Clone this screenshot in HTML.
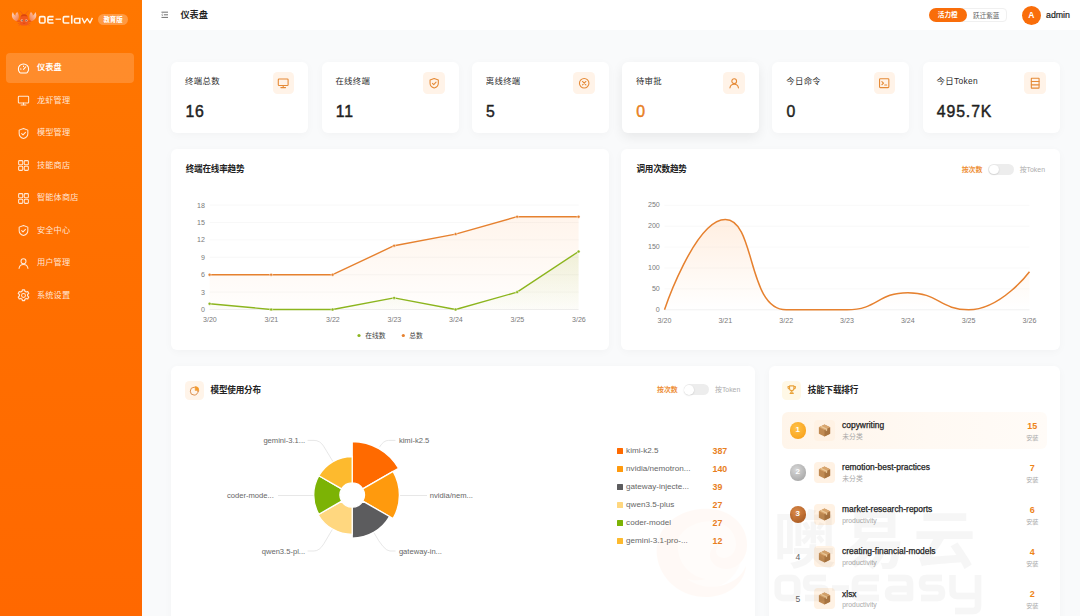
<!DOCTYPE html>
<html lang="zh">
<head>
<meta charset="utf-8">
<title>OE-Claw</title>
<style>
*{box-sizing:border-box;margin:0;padding:0}
html,body{width:1080px;height:616px;overflow:hidden}
body{white-space:nowrap;font-family:"Liberation Sans","Noto Sans CJK SC",sans-serif;background:#f9fafb;color:#1f1f1f;position:relative;-webkit-font-smoothing:antialiased}
.abs{position:absolute}
/* sidebar */
#side{position:absolute;left:0;top:0;width:142px;height:616px;background:linear-gradient(180deg,#ff7700 0%,#ff7000 40%,#ff6800 100%)}
.logo-t{position:absolute;left:38px;top:11px;font-size:11.5px;font-weight:700;color:#fff;letter-spacing:.2px;line-height:16px}
.badge{position:absolute;left:98px;top:14px;width:30px;height:11px;border-radius:6px;background:rgba(255,255,255,.26);color:#fff;font-size:6.400px;font-weight:700;line-height:11px;text-align:center}
.nav{position:absolute;left:6px;width:128px;height:30px;border-radius:4px}
.nav.on{background:rgba(255,255,255,.17)}
.nav span{position:absolute;left:31px;top:0;line-height:30px;font-size:8.200px;letter-spacing:.120px;color:rgba(255,255,255,.84)}
.nav.on span{color:#fff;font-weight:700}
.nav svg{position:absolute;left:11.400px;top:8.500px;width:13px;height:13px;fill:none;stroke:rgba(255,255,255,.84);stroke-width:1.900;stroke-linecap:round;stroke-linejoin:round}
.nav.on svg{stroke:#fff}
/* header */
#hdr{position:absolute;left:142px;top:0;width:938px;height:30px;background:#fff}
.h-title{position:absolute;left:38.400px;top:0;line-height:30px;font-size:9.200px;font-weight:700;color:#1f1f1f}

.hb{position:absolute;left:18.600px;top:10.900px;width:7.600px;height:7.600px}
.pill{position:absolute;top:7.500px;height:14.500px;line-height:14.500px;font-size:6.600px;text-align:center}
.pill.a{left:787px;width:37.500px;border-radius:7.300px;background:#f96d0a;color:#fff;z-index:2;font-weight:700}
.pill.b{left:816px;width:48.500px;padding-left:8px;border-radius:0 4px 4px 0;background:#fff;border:.700px solid #f0f0f0;color:#666;line-height:13px}
.ava{position:absolute;left:879.800px;top:5.600px;width:19px;height:19px;border-radius:50%;background:#f96d0a;color:#fff;font-size:8.500px;line-height:19px;text-align:center;font-weight:700}
.adm{position:absolute;left:904px;top:0;line-height:30px;font-size:8.800px;color:#222;-webkit-text-stroke:.200px #222}
/* cards */
.card{position:absolute;background:#fff;border-radius:6px;box-shadow:0 2px 9px rgba(0,0,0,.03)}
.stat{top:61.500px;width:137px;height:71.300px}
.stat .lb{position:absolute;left:13.900px;top:14.200px;font-size:8.400px;letter-spacing:.350px;line-height:11px;color:#2a2a2a}
.stat .nm{position:absolute;left:14.200px;top:40.600px;font-size:15.800px;line-height:20px;font-weight:400;color:#1f1f1f;letter-spacing:.900px;-webkit-text-stroke:.450px #1f1f1f}
.stat .ic{position:absolute;left:101.400px;top:10.600px;width:21.800px;height:21.800px;border-radius:4.500px;background:#fff3e8}
.stat .ic svg{position:absolute;left:4.700px;top:4.900px;width:12.400px;height:12.400px;fill:none;stroke:#e58a36;stroke-width:2.100;stroke-linecap:round;stroke-linejoin:round}
.stat.hl .nm{color:#e8801f;-webkit-text-stroke-color:#e8801f}
.stat.hl{box-shadow:0 4px 12px rgba(0,0,0,.075)}
.ct{position:absolute;font-size:8.600px;letter-spacing:-.220px;font-weight:700;color:#222;line-height:12px}
.tg{position:absolute;height:12px;white-space:nowrap;font-size:6.900px;line-height:11px}
.tg b{position:absolute;left:0;top:0;color:#ee9038;font-weight:700}
.tg i{position:absolute;left:26.500px;top:0;width:25.500px;height:11px;border-radius:5.500px;background:#ededed}
.tg i:after{content:"";position:absolute;left:.800px;top:.700px;width:9.600px;height:9.600px;border-radius:50%;background:#fff;box-shadow:0 .500px 1.500px rgba(0,0,0,.18)}
.tg span{position:absolute;left:58px;top:0;color:#adadad}
.tic{position:absolute;width:19.200px;height:19.200px;border-radius:4.500px;background:#fff4e9}
.tic svg{position:absolute;left:3.900px;top:3.900px;width:11.400px;height:11.400px;fill:none;stroke:#ef8a3a;stroke-width:2;stroke-linecap:round;stroke-linejoin:round}
.tic.y{background:#fff8e6}
.tic.y svg{stroke:#e9a23b;stroke-width:2.300}
.pl{font-size:7.600px;fill:#666;font-family:"Liberation Sans",sans-serif}
.lg{position:absolute;left:445.500px;width:120px;height:12px;line-height:12px;font-size:8.100px;color:#666;white-space:nowrap}
.lg i{position:absolute;left:0;top:3px;width:6px;height:6px;border-radius:.500px}
.lg span{position:absolute;left:9.600px;top:0}
.lg b{position:absolute;left:96px;top:0;font-size:8.800px;color:#e8801f;font-weight:700}
.rk{position:absolute;left:12.500px;width:265.500px;height:37.400px;border-radius:6px}
.rk.r1{background:linear-gradient(90deg,#fff5ea 0%,#fff9f3 55%,#fffbf7 100%)}
.rk em{position:absolute;left:8px;top:10.400px;width:16.600px;height:16.600px;border-radius:50%;font-style:normal;font-size:8.600px;line-height:18.400px;text-align:center;color:#666;font-weight:400}
.rk.r1 em{background:radial-gradient(circle at 40% 35%,#ffc24a,#f79a10);color:#fff;font-weight:700;font-size:8px;line-height:16.600px}
.rk.r2 em{background:radial-gradient(circle at 40% 35%,#d8d8d8,#9c9c9c);color:#fff;font-weight:700;font-size:8px;line-height:16.600px}
.rk.r3 em{background:radial-gradient(circle at 40% 35%,#d98a4a,#a8551c);color:#fff;font-weight:700;font-size:8px;line-height:16.600px}
.rk u{position:absolute;left:32.500px;top:8.300px;width:20.800px;height:20.800px;border-radius:4px;background:#fff2e4;text-decoration:none}
.rk u svg{position:absolute;left:2.900px;top:2.900px;width:15px;height:15px}
.rk span{position:absolute;left:60.600px;top:8.500px;font-size:8.420px;line-height:11px;color:#222;white-space:nowrap;-webkit-text-stroke:.250px #222}
.rk small{position:absolute;left:60.800px;top:20.400px;font-size:6.800px;line-height:9px;color:#a8a8a8}
.rk b{position:absolute;right:2.700px;width:24px;text-align:center;top:9.400px;font-size:9px;line-height:11px;color:#ee8419;font-weight:700}
.rk s{position:absolute;right:2.700px;width:24px;text-align:center;top:21px;font-size:6.200px;line-height:9px;color:#aaa;text-decoration:none}
.ax{font-size:7.100px;fill:#7a7a7a;font-family:"Liberation Sans","Noto Sans CJK SC",sans-serif}
</style>
</head>
<body>

<div id="side">
  <svg class="abs" style="left:0;top:0" width="142" height="36" viewBox="0 0 142 36" role="img" aria-label="OE-Claw">
    <defs><linearGradient id="cl" x1="0" y1="0" x2="1" y2="1"><stop offset="0" stop-color="#ffdcc8"/><stop offset="1" stop-color="#f3743e"/></linearGradient>
    <linearGradient id="cr" x1="1" y1="0" x2="0" y2="1"><stop offset="0" stop-color="#ffdcc8"/><stop offset="1" stop-color="#f3743e"/></linearGradient></defs>
    <g fill="none" stroke-linecap="round" stroke-linejoin="round">
      <path d="M22.800 14.600Q21.600 11.600 19.800 10.900M25.400 14.600Q26.600 11.600 28.400 10.900" stroke="#ee5a1c" stroke-width=".700"/>
      <path d="M20.600 20.600Q18.400 22 16.600 20.400M27.600 20.600Q29.800 22 31.600 20.400" stroke="#ec5418" stroke-width="1.700"/>
      <path d="M20.400 22.700l-2.200 .900M20.800 24l-1.800 1.200M27.800 22.700l2.200 .900M27.400 24l1.800 1.200" stroke="#ec5418" stroke-width=".700"/>
    </g>
    <path d="M16.900 21.200C12.300 20.200 10.600 15.600 12.900 12C13.500 13.800 14.300 15 15.500 15.700C15.300 14 15.900 12.600 17.300 11.900C19.400 14.700 19.600 18.800 16.900 21.200Z" fill="url(#cl)"/>
    <path d="M31.300 21.200C35.900 20.200 37.600 15.600 35.300 12C34.700 13.800 33.900 15 32.700 15.700C32.900 14 32.300 12.600 30.900 11.900C28.800 14.700 28.600 18.800 31.300 21.200Z" fill="url(#cr)"/>
    <path d="M24.100 14.200C26.500 14.200 28 16.200 28.200 19C28.400 21.400 28.300 23.800 27.700 24.800Q27.300 25.400 26.400 25.400H21.800Q20.900 25.400 20.500 24.800C19.900 23.800 19.800 21.400 20 19C20.200 16.200 21.700 14.200 24.100 14.200Z" fill="#f1591d"/>
    <path d="M24.100 14.200C25.700 14.200 26.900 15.100 27.500 16.500Q24.100 15.400 20.700 16.500C21.300 15.100 22.500 14.200 24.100 14.200Z" fill="#d9460d"/>
    <ellipse cx="21.900" cy="20.600" rx="1.250" ry="1" fill="#ffe9d4"/><ellipse cx="26.300" cy="20.600" rx="1.250" ry="1" fill="#ffe9d4"/>
    <circle cx="22.100" cy="20.600" r=".620" fill="#4a1603"/><circle cx="26.100" cy="20.600" r=".620" fill="#4a1603"/>
    <path d="M23.200 23.200Q24.100 23.800 25 23.200" fill="none" stroke="#c93a08" stroke-width=".500" stroke-linecap="round"/>
    <!-- wordmark OE-Claw -->
    <g fill="none" stroke="#fff6e8" stroke-width="1.600" stroke-linejoin="round">
      <rect x="39.500" y="16.600" width="5.500" height="6.400" rx="1.300"/>
      <path d="M53.600 16.600H49.200Q47.900 16.600 47.900 17.900V21.700Q47.900 23 49.200 23H53.600M47.900 19.700H53.200"/>
      <path d="M55.500 19.200H61" stroke-width="1.200"/>
      <path d="M69.400 16.600H64.600Q63.300 16.600 63.300 17.900V21.700Q63.300 23 64.600 23H69.400"/>
      <path d="M71.750 15.300V23.700"/>
      <path d="M79.800 17.800V23.700M79.800 23H75.800Q74.500 23 74.500 21.700V19.800Q74.500 18.500 75.800 18.500H79.800"/>
      <path d="M82 17.900L84.400 23L87.200 18.600L90 23L92.400 17.900" stroke-width="1.350"/>
    </g>
  </svg>
  <div class="badge">教育版</div>
  <div class="nav on" style="top:53.3px"><svg viewBox="0 0 24 24"><path d="M12 3.5a9.5 9.5 0 0 0-9.5 9.5c0 2.6 1 4.9 2.7 6.6.4.4.9.6 1.4.6h10.8c.5 0 1-.2 1.4-.6A9.4 9.4 0 0 0 21.500 13 9.500 9.500 0 0 0 12 3.500z"/><path d="M12 13.500l4.200-4.700"/><path d="M6.300 13h1.200M12 7.200v1.200"/></svg><span>仪表盘</span></div>
  <div class="nav" style="top:85.8px"><svg viewBox="0 0 24 24"><rect x="2.5" y="4" width="19" height="12.500" rx="1.500"/><path d="M12 16.500v4M7.500 20.500h9"/></svg><span>龙虾管理</span></div>
  <div class="nav" style="top:118.3px"><svg viewBox="0 0 24 24"><path d="M12 2.800l8 3v6.200c0 4.600-3.300 7.900-8 9.400-4.700-1.500-8-4.800-8-9.400V5.800z"/><path d="M8.600 12.200l2.500 2.500 4.500-4.700"/></svg><span>模型管理</span></div>
  <div class="nav" style="top:150.8px"><svg viewBox="0 0 24 24"><rect x="3" y="3" width="7.600" height="7.600" rx="1.600"/><rect x="13.400" y="3" width="7.600" height="7.600" rx="1.600"/><rect x="3" y="13.400" width="7.600" height="7.600" rx="1.600"/><rect x="13.400" y="13.400" width="7.600" height="7.600" rx="1.600"/></svg><span>技能商店</span></div>
  <div class="nav" style="top:183.3px"><svg viewBox="0 0 24 24"><rect x="3" y="3" width="7.600" height="7.600" rx="1.600"/><rect x="13.400" y="3" width="7.600" height="7.600" rx="1.600"/><rect x="3" y="13.400" width="7.600" height="7.600" rx="1.600"/><rect x="13.400" y="13.400" width="7.600" height="7.600" rx="1.600"/></svg><span>智能体商店</span></div>
  <div class="nav" style="top:215.8px"><svg viewBox="0 0 24 24"><path d="M12 2.800l8 3v6.200c0 4.600-3.300 7.900-8 9.400-4.700-1.500-8-4.800-8-9.400V5.800z"/><path d="M8.600 12.200l2.500 2.500 4.500-4.700"/></svg><span>安全中心</span></div>
  <div class="nav" style="top:248.3px"><svg viewBox="0 0 24 24"><circle cx="12" cy="8" r="4.600"/><path d="M3.800 21c.6-4.300 4-7 8.200-7s7.600 2.700 8.200 7"/></svg><span>用户管理</span></div>
  <div class="nav" style="top:280.8px"><svg viewBox="0 0 24 24"><path transform="translate(12 12) scale(1.160) translate(-12 -12)" d="M10.300 2.900h3.400l.6 2.500 1.900 1.100 2.500-.8 1.700 3-1.900 1.800v2.200l1.900 1.800-1.700 3-2.500-.8-1.900 1.100-.6 2.500h-3.400l-.6-2.500-1.900-1.100-2.500.8-1.700-3 1.900-1.800v-2.200L3.600 8.700l1.700-3 2.500.8 1.900-1.100z"/><circle cx="12" cy="12" r="3.600"/></svg><span>系统设置</span></div>
</div>

<div id="hdr">
  <svg class="hb" viewBox="0 0 16 16" fill="none" stroke="#444" stroke-width="1.600"><path d="M1 2.500h14M6 8h9M1 13.500h14"/><path d="M3.800 6L1.500 8l2.300 2" stroke-width="1.200"/></svg>
  <div class="h-title">仪表盘</div>
  <div class="pill a">活力橙</div>
  <div class="pill b">跃迁紫蓝</div>
  <div class="ava">A</div>
  <div class="adm">admin</div>
</div>

<div class="card stat" style="left:171.2px"><div class="lb">终端总数</div><div class="nm">16</div><div class="ic"><svg viewBox="0 0 24 24"><rect x="2.500" y="4" width="19" height="12.500" rx="1.500"/><path d="M12 16.500v4M7.500 20.500h9"/></svg></div></div>
<div class="card stat" style="left:321.5px"><div class="lb">在线终端</div><div class="nm">11</div><div class="ic"><svg viewBox="0 0 24 24"><path d="M12 2.800l8 3v6.200c0 4.600-3.300 7.900-8 9.400-4.700-1.500-8-4.800-8-9.400V5.800z"/><path d="M8.600 12.200l2.500 2.500 4.500-4.700"/></svg></div></div>
<div class="card stat" style="left:471.8px"><div class="lb">离线终端</div><div class="nm">5</div><div class="ic"><svg viewBox="0 0 24 24"><circle cx="12" cy="12" r="9.200"/><path d="M8.700 8.700l6.600 6.600M15.300 8.700l-6.600 6.600"/></svg></div></div>
<div class="card stat hl" style="left:622.0px"><div class="lb">待审批</div><div class="nm">0</div><div class="ic"><svg viewBox="0 0 24 24"><circle cx="12" cy="8" r="4.600"/><path d="M3.800 21c.6-4.300 4-7 8.200-7s7.600 2.700 8.200 7"/></svg></div></div>
<div class="card stat" style="left:772.3px"><div class="lb">今日命令</div><div class="nm">0</div><div class="ic"><svg viewBox="0 0 24 24"><rect x="3" y="3.500" width="18" height="17" rx="1.500"/><path d="M7.500 9l3.200 3-3.200 3M13 15.500h3.800"/></svg></div></div>
<div class="card stat" style="left:922.6px"><div class="lb">今日Token</div><div class="nm">495.7K</div><div class="ic"><svg viewBox="0 0 24 24"><rect x="4.500" y="2.500" width="15" height="19" rx=".600"/><path d="M4.500 8.800h15M4.500 15.200h15"/></svg></div></div>

<!--C1-->
<div class="card" style="left:171.0px;top:149.4px;width:438.3px;height:200.6px">
<div class="ct" style="left:14.700px;top:13.700px">终端在线率趋势</div>
<svg class="abs" style="left:0;top:0" width="438.3" height="200.6" viewBox="171.0 149.4 438.3 200.6">
<defs><linearGradient id="g1" x1="0" y1="0" x2="0" y2="1"><stop offset="0" stop-color="#ff8a2a" stop-opacity=".09"/><stop offset="1" stop-color="#ff8a2a" stop-opacity=".01"/></linearGradient>
<linearGradient id="g2" x1="0" y1="0" x2="0" y2="1"><stop offset="0" stop-color="#8cb51e" stop-opacity=".13"/><stop offset="1" stop-color="#8cb51e" stop-opacity=".02"/></linearGradient></defs>
<line x1="209.6" x2="578.6" y1="309.9" y2="309.9" stroke="#e4e4e4" stroke-width=".6"/><text class="ax" x="204.9" y="312.4" text-anchor="end">0</text><line x1="209.6" x2="578.6" y1="292.5" y2="292.5" stroke="#f3f3f3" stroke-width=".6"/><text class="ax" x="204.9" y="295.0" text-anchor="end">3</text><line x1="209.6" x2="578.6" y1="275.1" y2="275.1" stroke="#f3f3f3" stroke-width=".6"/><text class="ax" x="204.9" y="277.6" text-anchor="end">6</text><line x1="209.6" x2="578.6" y1="257.7" y2="257.7" stroke="#f3f3f3" stroke-width=".6"/><text class="ax" x="204.9" y="260.2" text-anchor="end">9</text><line x1="209.6" x2="578.6" y1="240.3" y2="240.3" stroke="#f3f3f3" stroke-width=".6"/><text class="ax" x="204.9" y="242.8" text-anchor="end">12</text><line x1="209.6" x2="578.6" y1="222.9" y2="222.9" stroke="#f3f3f3" stroke-width=".6"/><text class="ax" x="204.9" y="225.4" text-anchor="end">15</text><line x1="209.6" x2="578.6" y1="205.5" y2="205.5" stroke="#f3f3f3" stroke-width=".6"/><text class="ax" x="204.9" y="208.0" text-anchor="end">18</text><text class="ax" x="209.9" y="322.9" text-anchor="middle">3/20</text><text class="ax" x="271.4" y="322.9" text-anchor="middle">3/21</text><text class="ax" x="332.9" y="322.9" text-anchor="middle">3/22</text><text class="ax" x="394.4" y="322.9" text-anchor="middle">3/23</text><text class="ax" x="455.9" y="322.9" text-anchor="middle">3/24</text><text class="ax" x="517.4" y="322.9" text-anchor="middle">3/25</text><text class="ax" x="578.9" y="322.9" text-anchor="middle">3/26</text>
<path d="M209.6,309.9 L209.6,275.1 L271.1,275.1 L332.6,275.1 L394.1,246.1 L455.6,234.5 L517.1,217.1 L578.6,217.1 L578.6,309.9 Z" fill="url(#g1)"/>
<path d="M209.6,309.9 L209.6,304.1 L271.1,309.9 L332.6,309.9 L394.1,298.3 L455.6,309.9 L517.1,292.5 L578.6,251.9 L578.6,309.9 Z" fill="url(#g2)"/>
<polyline points="209.6,275.1 271.1,275.1 332.6,275.1 394.1,246.1 455.6,234.5 517.1,217.1 578.6,217.1" fill="none" stroke="#e6812f" stroke-width="1.400" stroke-linejoin="round"/>
<polyline points="209.6,304.1 271.1,309.9 332.6,309.9 394.1,298.3 455.6,309.9 517.1,292.5 578.6,251.9" fill="none" stroke="#8cb51e" stroke-width="1.400" stroke-linejoin="round"/>
<circle cx="209.6" cy="275.1" r="1.500" fill="#e6812f" stroke="#fff" stroke-width=".500"/><circle cx="271.1" cy="275.1" r="1.500" fill="#e6812f" stroke="#fff" stroke-width=".500"/><circle cx="332.6" cy="275.1" r="1.500" fill="#e6812f" stroke="#fff" stroke-width=".500"/><circle cx="394.1" cy="246.1" r="1.500" fill="#e6812f" stroke="#fff" stroke-width=".500"/><circle cx="455.6" cy="234.5" r="1.500" fill="#e6812f" stroke="#fff" stroke-width=".500"/><circle cx="517.1" cy="217.1" r="1.500" fill="#e6812f" stroke="#fff" stroke-width=".500"/><circle cx="578.6" cy="217.1" r="1.500" fill="#e6812f" stroke="#fff" stroke-width=".500"/><circle cx="209.6" cy="304.1" r="1.500" fill="#8cb51e" stroke="#fff" stroke-width=".500"/><circle cx="271.1" cy="309.9" r="1.500" fill="#8cb51e" stroke="#fff" stroke-width=".500"/><circle cx="332.6" cy="309.9" r="1.500" fill="#8cb51e" stroke="#fff" stroke-width=".500"/><circle cx="394.1" cy="298.3" r="1.500" fill="#8cb51e" stroke="#fff" stroke-width=".500"/><circle cx="455.6" cy="309.9" r="1.500" fill="#8cb51e" stroke="#fff" stroke-width=".500"/><circle cx="517.1" cy="292.5" r="1.500" fill="#8cb51e" stroke="#fff" stroke-width=".500"/><circle cx="578.6" cy="251.9" r="1.500" fill="#8cb51e" stroke="#fff" stroke-width=".500"/>
<circle cx="359" cy="335.900" r="1.600" fill="#8cb51e"/><text class="ax" x="365.300" y="338.200" fill="#444" style="fill:#444;font-size:6.800px">在线数</text>
<circle cx="403.300" cy="335.900" r="1.600" fill="#e6812f"/><text class="ax" x="409.200" y="338.200" style="fill:#444;font-size:6.800px">总数</text>
</svg>
</div>
<!--/C1-->

<!--C2-->
<div class="card" style="left:620.5px;top:149.4px;width:439.0px;height:200.6px">
<div class="ct" style="left:16px;top:13.700px">调用次数趋势</div>
<div class="tg" style="left:341.200px;top:14.500px"><b>按次数</b><i></i><span>按Token</span></div>
<svg class="abs" style="left:0;top:0" width="439.0" height="200.6" viewBox="620.5 149.4 439.0 200.6">
<defs><linearGradient id="g3" x1="0" y1="0" x2="0" y2="1"><stop offset="0" stop-color="#ff8a2a" stop-opacity=".14"/><stop offset="1" stop-color="#ff8a2a" stop-opacity="0"/></linearGradient></defs>
<line x1="664.0" x2="1029.0" y1="310.2" y2="310.2" stroke="#e8e8e8" stroke-width=".6"/><text class="ax" x="659.3" y="312.4" text-anchor="end">0</text><line x1="664.0" x2="1029.0" y1="289.3" y2="289.3" stroke="#f5f5f5" stroke-width=".6"/><text class="ax" x="659.3" y="291.5" text-anchor="end">50</text><line x1="664.0" x2="1029.0" y1="268.4" y2="268.4" stroke="#f5f5f5" stroke-width=".6"/><text class="ax" x="659.3" y="270.6" text-anchor="end">100</text><line x1="664.0" x2="1029.0" y1="247.5" y2="247.5" stroke="#f5f5f5" stroke-width=".6"/><text class="ax" x="659.3" y="249.7" text-anchor="end">150</text><line x1="664.0" x2="1029.0" y1="226.6" y2="226.6" stroke="#f5f5f5" stroke-width=".6"/><text class="ax" x="659.3" y="228.8" text-anchor="end">200</text><line x1="664.0" x2="1029.0" y1="205.7" y2="205.7" stroke="#f5f5f5" stroke-width=".6"/><text class="ax" x="659.3" y="207.9" text-anchor="end">250</text><text class="ax" x="664.0" y="323.0" text-anchor="middle">3/20</text><text class="ax" x="724.8" y="323.0" text-anchor="middle">3/21</text><text class="ax" x="785.7" y="323.0" text-anchor="middle">3/22</text><text class="ax" x="846.5" y="323.0" text-anchor="middle">3/23</text><text class="ax" x="907.3" y="323.0" text-anchor="middle">3/24</text><text class="ax" x="968.1" y="323.0" text-anchor="middle">3/25</text><text class="ax" x="1029.0" y="323.0" text-anchor="middle">3/26</text>
<path d="M664.00,310.20 C664.00,310.20 694.42,219.91 724.83,219.91 C755.25,219.91 746.64,310.20 785.66,310.20 C807.47,310.20 816.66,310.20 846.49,310.20 C877.49,310.20 876.90,293.06 907.32,293.06 C937.73,293.06 939.66,310.20 968.15,310.20 C1000.49,310.20 1028.98,272.16 1028.98,272.16 L1029.0,310.2 L664.0,310.2 Z" fill="url(#g3)"/>
<path d="M664.00,310.20 C664.00,310.20 694.42,219.91 724.83,219.91 C755.25,219.91 746.64,310.20 785.66,310.20 C807.47,310.20 816.66,310.20 846.49,310.20 C877.49,310.20 876.90,293.06 907.32,293.06 C937.73,293.06 939.66,310.20 968.15,310.20 C1000.49,310.20 1028.98,272.16 1028.98,272.16" fill="none" stroke="#e6812f" stroke-width="1.500"/>
</svg>
</div>
<!--/C2-->

<!--PIE-->
<div class="card" style="left:171.0px;top:366.0px;width:583.5px;height:260.0px">
<div class="tic" style="left:14px;top:14.800px"><svg viewBox="0 0 24 24"><circle cx="11" cy="13" r="8.300" stroke="#d98a48"/><path d="M13.200 10.800V3.200a7.600 7.600 0 0 1 7.600 7.600z" fill="#f39a2e" stroke="#f39a2e" stroke-width="1.400"/></svg></div>
<div class="ct" style="left:39.600px;top:18.300px">模型使用分布</div>
<div class="tg" style="left:486px;top:18.400px"><b>按次数</b><i></i><span>按Token</span></div>
<svg class="abs" style="left:0;top:0" width="583.5" height="260.0" viewBox="171.0 366.0 583.5 260.0"><path d="M352.20,441.50 A53.50,53.50 0 0 1 398.53,468.25 L362.77,488.90 A12.20,12.20 0 0 0 352.20,482.80 Z" fill="#ff6a00" stroke="#fff" stroke-width="1.300" stroke-linejoin="round"/><path d="M393.08,471.40 A47.20,47.20 0 0 1 393.08,518.60 L362.77,501.10 A12.20,12.20 0 0 0 362.77,488.90 Z" fill="#ff9a0d" stroke="#fff" stroke-width="1.300" stroke-linejoin="round"/><path d="M389.53,516.55 A43.10,43.10 0 0 1 352.20,538.10 L352.20,507.20 A12.20,12.20 0 0 0 362.77,501.10 Z" fill="#5c5c5e" stroke="#fff" stroke-width="1.300" stroke-linejoin="round"/><path d="M352.20,534.40 A39.40,39.40 0 0 1 318.08,514.70 L341.63,501.10 A12.20,12.20 0 0 0 352.20,507.20 Z" fill="#ffd77f" stroke="#fff" stroke-width="1.300" stroke-linejoin="round"/><path d="M318.86,514.25 A38.50,38.50 0 0 1 318.86,475.75 L341.63,488.90 A12.20,12.20 0 0 0 341.63,501.10 Z" fill="#7cb305" stroke="#fff" stroke-width="1.300" stroke-linejoin="round"/><path d="M318.86,475.75 A38.50,38.50 0 0 1 352.20,456.50 L352.20,482.80 A12.20,12.20 0 0 0 341.63,488.90 Z" fill="#fdba2e" stroke="#fff" stroke-width="1.300" stroke-linejoin="round"/><path d="M379.4,447.2 Q383.5,440.4 388.5,440.4 L395.5,440.4" fill="none" stroke="#dcdcdc" stroke-width=".700"/><path d="M400.1,495.5 L427,495.5" fill="none" stroke="#dcdcdc" stroke-width=".700"/><path d="M374,532.8 Q384,551 390,551 L395.5,551" fill="none" stroke="#dcdcdc" stroke-width=".700"/><path d="M332.300,529.500 L324,543.500 Q319.500,551 314,551 L307.600,551" fill="none" stroke="#dcdcdc" stroke-width=".700"/><path d="M313.500,495.500 L278,495.500" fill="none" stroke="#dcdcdc" stroke-width=".700"/><path d="M332.800,461.300 L323.500,446 Q320,440.400 314,440.400 L307.600,440.400" fill="none" stroke="#dcdcdc" stroke-width=".700"/><text x="398.9" y="443.0" text-anchor="start" class="pl">kimi-k2.5</text><text x="429.8" y="498.1" text-anchor="start" class="pl">nvidia/nem...</text><text x="398.9" y="553.6" text-anchor="start" class="pl">gateway-in...</text><text x="305.2" y="553.6" text-anchor="end" class="pl">qwen3.5-pl...</text><text x="273.8" y="498.1" text-anchor="end" class="pl">coder-mode...</text><text x="305.2" y="443.0" text-anchor="end" class="pl">gemini-3.1...</text></svg>
<div class="lg" style="top:79.3px"><i style="background:#ff6a00"></i><span>kimi-k2.5</span><b>387</b></div><div class="lg" style="top:97.2px"><i style="background:#ff9a0d"></i><span>nvidia/nemotron...</span><b>140</b></div><div class="lg" style="top:115.1px"><i style="background:#5c5c5e"></i><span>gateway-injecte...</span><b>39</b></div><div class="lg" style="top:133.0px"><i style="background:#ffd77f"></i><span>qwen3.5-plus</span><b>27</b></div><div class="lg" style="top:150.9px"><i style="background:#7cb305"></i><span>coder-model</span><b>27</b></div><div class="lg" style="top:168.8px"><i style="background:#fdba2e"></i><span>gemini-3.1-pro-...</span><b>12</b></div>
</div>
<!--/PIE-->

<!--RANK-->
<div class="card" style="left:769.0px;top:366.0px;width:290.5px;height:260.0px">
<div class="tic y" style="left:13.200px;top:14.600px"><svg viewBox="0 0 24 24"><path d="M7.500 4h9v5.500a4.500 4.500 0 0 1-9 0zM7.500 5.500H4.200v1.700a3.300 3.300 0 0 0 3.300 3.300M16.500 5.500h3.300v1.700a3.300 3.300 0 0 1-3.300 3.300M12 14v3.500M8.500 20h7M9.500 17.500h5"/></svg></div>
<div class="ct" style="left:38.800px;top:18.300px">技能下载排行</div>
<div class="rk r1" style="top:45.6px"><em>1</em><u><svg viewBox="0 0 24 24"><path d="M12 2.500l9 4.300v10.200l-9 4.500-9-4.500V6.800z" fill="#c08a52"/><path d="M12 11.200l9-4.400v10.200l-9 4.500z" fill="#a87440"/><path d="M12 11.200L3 6.800l9-4.300 9 4.300z" fill="#d9a66e"/><path d="M7.300 4.700l9 4.400v3l-2.200 1v-2.900L5.200 5.800z" fill="#ecc998"/></svg></u><span>copywriting</span><small>未分类</small><b>15</b><s>安装</s></div><div class="rk r2" style="top:87.7px"><em>2</em><u><svg viewBox="0 0 24 24"><path d="M12 2.500l9 4.300v10.200l-9 4.500-9-4.500V6.800z" fill="#c08a52"/><path d="M12 11.200l9-4.400v10.200l-9 4.500z" fill="#a87440"/><path d="M12 11.200L3 6.800l9-4.300 9 4.300z" fill="#d9a66e"/><path d="M7.300 4.700l9 4.400v3l-2.200 1v-2.900L5.200 5.800z" fill="#ecc998"/></svg></u><span>remotion-best-practices</span><small>未分类</small><b>7</b><s>安装</s></div><div class="rk r3" style="top:129.8px"><em>3</em><u><svg viewBox="0 0 24 24"><path d="M12 2.500l9 4.300v10.200l-9 4.500-9-4.500V6.800z" fill="#c08a52"/><path d="M12 11.200l9-4.400v10.200l-9 4.500z" fill="#a87440"/><path d="M12 11.200L3 6.800l9-4.300 9 4.300z" fill="#d9a66e"/><path d="M7.300 4.700l9 4.400v3l-2.200 1v-2.900L5.200 5.800z" fill="#ecc998"/></svg></u><span>market-research-reports</span><small>productivity</small><b>6</b><s>安装</s></div><div class="rk r4" style="top:171.9px"><em>4</em><u><svg viewBox="0 0 24 24"><path d="M12 2.500l9 4.300v10.200l-9 4.500-9-4.500V6.800z" fill="#c08a52"/><path d="M12 11.200l9-4.400v10.200l-9 4.500z" fill="#a87440"/><path d="M12 11.200L3 6.800l9-4.300 9 4.300z" fill="#d9a66e"/><path d="M7.300 4.700l9 4.400v3l-2.200 1v-2.900L5.200 5.800z" fill="#ecc998"/></svg></u><span>creating-financial-models</span><small>productivity</small><b>4</b><s>安装</s></div><div class="rk r5" style="top:214.0px"><em>5</em><u><svg viewBox="0 0 24 24"><path d="M12 2.500l9 4.300v10.200l-9 4.500-9-4.500V6.800z" fill="#c08a52"/><path d="M12 11.200l9-4.400v10.200l-9 4.500z" fill="#a87440"/><path d="M12 11.200L3 6.800l9-4.300 9 4.300z" fill="#d9a66e"/><path d="M7.300 4.700l9 4.400v3l-2.200 1v-2.900L5.200 5.800z" fill="#ecc998"/></svg></u><span>xlsx</span><small>productivity</small><b>2</b><s>安装</s></div>
</div>
<!--/RANK-->

<!--WM-->
<svg class="abs" style="left:0;top:0;z-index:9;pointer-events:none" width="1080" height="616" viewBox="0 0 1080 616" role="img" aria-label="噢易云 os-easy">
<g opacity=".035" fill="#ff7a1a" stroke="none">
<path d="M700 509C728 506 748 524 747 546C746 566 728 574 716 566C706 559 709 546 720 544C713 550 716 558 724 558C734 557 738 547 735 538C731 525 717 519 702 522C682 526 671 543 675 560C680 580 700 590 720 586C733 583 742 576 746 566C744 584 728 596 708 597C682 598 660 580 657 556C654 531 673 512 700 509Z"/>
<path d="M664 556C662 536 676 520 694 516C682 524 676 536 678 550C680 566 692 577 706 579C688 584 667 574 664 556Z"/>
<ellipse cx="702" cy="552" rx="40" ry="38" opacity=".5"/>
</g>
<g opacity=".03" fill="#000"><text x="773.5 843.5 913.5" y="562.5" font-size="62" font-weight="700" style="font-family:'Liberation Sans','Noto Sans CJK SC',sans-serif">噢易云</text></g>
<g opacity=".03" fill="none" stroke="#000" stroke-width="6.500" stroke-linejoin="round">
<rect x="777.700" y="578" width="19.500" height="20" rx="5"/>
<path d="M826 578H810.500Q806 578 806 583Q806 588 810.500 588H821.500Q826 588 826 593Q826 598 821.500 598H805"/>
<path d="M832 588H849" stroke-width="5.500"/>
<path d="M879 578H860Q855 578 855 583V593Q855 598 860 598H879M855 588H877"/>
<path d="M888 578H905Q910 578 910 583V598H893Q888 598 888 593.500Q888 589 893 589H910"/>
<path d="M942 578H926.500Q922 578 922 583Q922 588 926.500 588H937.500Q942 588 942 593Q942 598 937.500 598H921"/>
<path d="M952.500 575V591Q952.500 596 957.500 596H978M978 575V606Q978 611 973 611H955"/>
</g>
</svg>
<!--/WM-->

</body>
</html>
